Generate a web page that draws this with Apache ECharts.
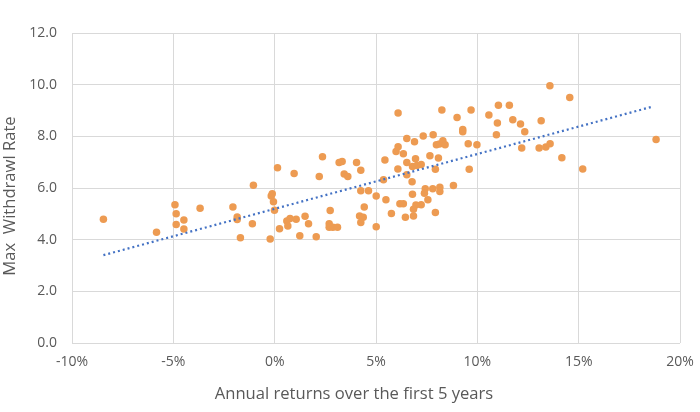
<!DOCTYPE html>
<html>
<head>
<meta charset="utf-8">
<script src="https://cdn.jsdelivr.net/npm/echarts@6/dist/echarts.min.js"></script>
<style>
  html, body { margin: 0; padding: 0; background: #fff; }
  #chart { width: 700px; height: 412px; }
</style>
</head>
<body>
<div id="chart"></div>
<script>
// annual return over first 5 years (%)
var returns = [
  -8.45, -5.83, -4.92, -4.86, -4.86, -4.48, -4.48, -3.68, -2.06, -1.85,
  -1.85, -1.69, -1.05, -1.10, -0.22, -0.17, -0.12, -0.06, -0.01, 0.14,
  0.24, 0.96, 0.60, 0.76, 0.65, 1.06, 1.24, 1.50, 1.67, 2.05,
  2.20, 2.36, 2.74, 2.69, 2.69, 2.87, 3.10, 3.18, 3.33, 3.43,
  3.61, 4.04, 4.25, 4.25, 4.63, 4.42, 4.19, 4.37, 4.25, 5.01,
  5.01, 5.49, 5.44, 5.37, 5.76, 6.18, 6.35, 6.45, 6.08, 5.99,
  6.09, 6.35, 6.52, 6.52, 6.52, 6.09, 8.25, 9.69, 9.00, 9.28,
  9.28, 11.04, 11.58, 10.57, 10.99, 11.75, 12.13, 12.34, 10.94, 12.19,
  6.90, 7.33, 7.82, 7.98, 8.13, 8.30, 8.41, 6.95, 7.66, 8.08,
  6.80, 7.02, 7.23, 7.93, 9.55, 9.98, 9.60, 6.78, 7.43, 7.39,
  7.80, 8.15, 8.15, 8.82, 6.80, 7.56, 7.23, 6.97, 6.85, 6.85,
  7.93, 13.58, 14.56, 13.15, 13.05, 13.38, 13.59, 14.17, 15.20, 18.82
];
// max withdrawal rate
var rates = [
  4.79, 4.29, 5.35, 5.00, 4.59, 4.76, 4.41, 5.22, 5.26, 4.88,
  4.78, 4.07, 6.11, 4.62, 4.03, 5.69, 5.78, 5.47, 5.14, 6.78,
  4.42, 6.56, 4.72, 4.82, 4.53, 4.79, 4.15, 4.91, 4.62, 4.11,
  6.45, 7.21, 5.13, 4.62, 4.48, 4.48, 4.48, 6.99, 7.03, 6.54,
  6.45, 6.99, 6.69, 5.89, 5.89, 5.26, 4.92, 4.87, 4.66, 5.69,
  4.50, 5.55, 7.08, 6.32, 5.01, 5.39, 5.39, 4.87, 6.74, 7.41,
  7.60, 7.33, 6.99, 7.92, 6.51, 8.90, 9.02, 9.02, 8.73, 8.26,
  8.18, 9.20, 9.20, 8.83, 8.52, 8.64, 8.48, 8.18, 8.06, 7.55,
  7.79, 8.01, 8.06, 7.67, 7.70, 7.83, 7.67, 7.13, 7.25, 7.16,
  6.83, 6.87, 6.91, 6.73, 7.71, 7.67, 6.73, 6.24, 5.97, 5.80,
  5.97, 6.03, 5.86, 6.10, 5.76, 5.55, 5.35, 5.34, 5.18, 4.92,
  5.05, 9.96, 9.50, 8.60, 7.55, 7.59, 7.71, 7.17, 6.74, 7.88
];
// linear trendline end points
var trendX = [-8.45, 18.69];
var trendY = [3.40, 9.16];

var points = returns.map(function (x, i) { return [x, rates[i]]; });
var trend = trendX.map(function (x, i) { return [x, trendY[i]]; });

var myChart = echarts.init(document.getElementById('chart'));
var font = '"Open Sans", "Liberation Sans", sans-serif';

var option = {
    animation: false,
    backgroundColor: '#ffffff',
    grid: { left: 72, right: 20, top: 33, bottom: 69, outerBoundsMode: 'none' },
    xAxis: {
        type: 'value',
        min: -10,
        max: 20,
        interval: 5,
        name: 'Annual returns over the first 5 years',
        nameLocation: 'middle',
        nameGap: 43,
        nameTextStyle: {
            fontFamily: font, fontSize: 16.6, color: '#595959',
            padding: [0, 44, 0, 0]
        },
        axisLine: { show: false },
        axisTick: { show: false },
        axisLabel: {
            fontFamily: font, fontSize: 14, color: '#595959', margin: 12,
            formatter: function (v) { return v + '%'; }
        },
        splitLine: { show: true, lineStyle: { color: '#d9d9d9', width: 1 } }
    },
    yAxis: {
        type: 'value',
        min: 0,
        max: 12,
        interval: 2,
        name: 'Max  Withdrawl Rate',
        nameLocation: 'middle',
        nameGap: 45,
        nameTextStyle: {
            fontFamily: font, fontSize: 16.6, color: '#595959',
            padding: [0, 16, 0, 0]
        },
        axisLine: { show: false },
        axisTick: { show: false },
        axisLabel: {
            fontFamily: font, fontSize: 14, color: '#595959', margin: 15,
            formatter: function (v) { return v.toFixed(1); }
        },
        splitLine: { show: true, lineStyle: { color: '#d9d9d9', width: 1 } }
    },
    series: [
        {
            name: 'Max withdrawal rate',
            type: 'scatter',
            symbolSize: 7.5,
            itemStyle: { color: '#ED9B52', opacity: 1 },
            data: points
        },
        {
            name: 'Linear trend',
            type: 'line',
            symbol: 'none',
            lineStyle: { color: '#4472C4', width: 2.2, type: [2, 3] },
            data: trend,
            z: 3
        }
    ]
};

myChart.setOption(option);
</script>
</body>
</html>
